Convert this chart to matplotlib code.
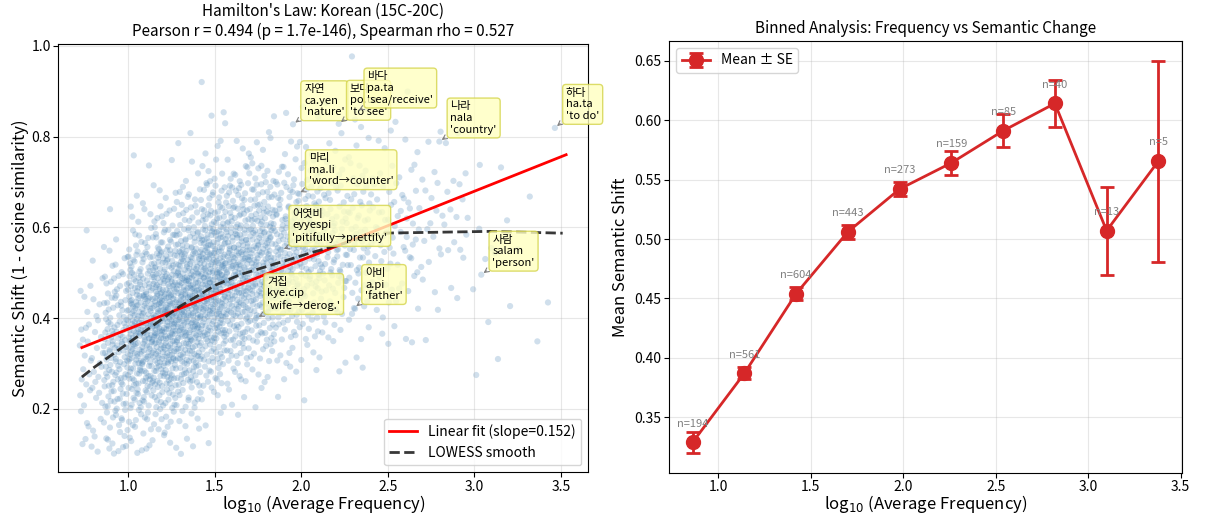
import numpy as np
import matplotlib
matplotlib.use('Agg')
import matplotlib.pyplot as plt

plt.rcParams['font.family'] = ['Noto Sans CJK KR', 'DejaVu Sans']
plt.rcParams['axes.unicode_minus'] = False

# ---------------- data ----------------
# scatter density: columns = x cells, each list = counts per y cell (low -> high)
x_edges = [0.72, 0.86, 1.00, 1.14, 1.28, 1.42, 1.56, 1.70, 1.84, 1.98, 2.12,
           2.26, 2.40, 2.54, 2.68, 2.82, 2.96, 3.10, 3.24, 3.38, 3.52]
y_edges = [0.10, 0.15, 0.20, 0.25, 0.30, 0.35, 0.40, 0.45, 0.50, 0.55,
           0.60, 0.65, 0.70, 0.75, 0.80, 0.85, 0.90, 0.95, 1.00]
cell_counts = [
    [5, 5, 7, 8, 8, 7, 5, 3, 1, 1, 0, 0, 0, 0, 0, 0, 0, 0],
    [10, 11, 16, 22, 25, 22, 17, 12, 6, 2, 1, 0, 0, 0, 0, 0, 0, 0],
    [7, 10, 19, 29, 38, 42, 38, 29, 19, 10, 5, 2, 1, 1, 0, 0, 0, 0],
    [5, 9, 18, 30, 43, 51, 51, 42, 30, 18, 9, 4, 1, 0, 0, 0, 0, 0],
    [3, 6, 12, 23, 35, 46, 51, 48, 37, 24, 13, 7, 3, 1, 1, 0, 0, 0],
    [1, 2, 5, 12, 22, 34, 45, 49, 45, 34, 22, 12, 6, 3, 1, 1, 1, 0],
    [0, 1, 3, 7, 14, 23, 33, 39, 39, 33, 23, 14, 7, 3, 1, 0, 0, 0],
    [0, 0, 2, 4, 9, 16, 24, 31, 34, 31, 24, 15, 8, 4, 1, 0, 0, 0],
    [0, 0, 1, 3, 6, 11, 17, 22, 25, 23, 18, 12, 7, 3, 1, 1, 0, 0],
    [0, 0, 1, 1, 4, 7, 12, 17, 20, 20, 17, 12, 7, 3, 1, 1, 0, 0],
    [0, 0, 0, 1, 2, 5, 8, 12, 14, 15, 12, 9, 5, 3, 1, 1, 0, 0],
    [0, 0, 0, 1, 1, 3, 5, 8, 11, 12, 11, 8, 5, 3, 2, 1, 0, 1],
    [0, 0, 0, 0, 1, 2, 4, 5, 7, 8, 7, 6, 4, 2, 1, 1, 0, 0],
    [0, 0, 0, 0, 1, 1, 2, 4, 5, 6, 6, 5, 3, 2, 1, 1, 0, 0],
    [0, 0, 0, 0, 0, 1, 1, 2, 3, 4, 4, 3, 2, 1, 1, 1, 0, 0],
    [0, 0, 0, 0, 0, 0, 1, 1, 2, 3, 3, 3, 2, 1, 1, 0, 0, 0],
    [0, 0, 0, 1, 0, 1, 0, 1, 1, 2, 1, 0, 1, 0, 0, 0, 0, 0],
    [0, 0, 0, 0, 1, 0, 1, 0, 1, 0, 1, 0, 1, 0, 0, 0, 0, 0],
    [0, 0, 0, 0, 1, 0, 0, 0, 0, 1, 0, 1, 0, 0, 0, 0, 0, 0],
    [0, 0, 0, 0, 0, 0, 1, 0, 0, 0, 0, 0, 0, 0, 0, 0, 0, 0],
]

# linear fit
fit_slope = 0.152
fit_intercept = 0.2234
fit_x_range = [0.734, 3.53]

# LOWESS curve (read points)
lowess_x = [0.734, 0.80, 1.30, 1.508, 1.647, 2.05, 2.455, 3.09, 3.51]
lowess_y = [0.270, 0.290, 0.4256, 0.473, 0.4955, 0.543, 0.587, 0.591, 0.587]

# annotated words
words = ['자연', '보다', '바다', '나라', '하다', '마리', '어엿비', '사람', '아비', '겨집']
romans = ['ca.yen', 'po.ta', 'pa.ta', 'nala', 'ha.ta', 'ma.li', 'eyyespi', 'salam', 'a.pi', 'kye.cip']
glosses = ["'nature'", "'to see'", "'sea/receive'", "'country'", "'to do'",
           "'word→counter'", "'pitifully→prettily'", "'person'", "'father'", "'wife→derog.'"]
word_x = [1.953, 2.217, 2.318, 2.798, 3.465, 1.98, 1.885, 3.04, 2.305, 1.74]
word_y = [0.827, 0.828, 0.855, 0.789, 0.819, 0.675, 0.550, 0.4955, 0.422, 0.400]

# binned analysis
bin_centers = [0.86, 1.14, 1.42, 1.70, 1.98, 2.26, 2.54, 2.82, 3.10, 3.38]
bin_means = [0.329, 0.387, 0.454, 0.506, 0.542, 0.564, 0.591, 0.614, 0.507, 0.5655]
bin_se = [0.009, 0.005, 0.0053, 0.0062, 0.006, 0.0099, 0.0139, 0.0195, 0.037, 0.0845]
bin_n = [194, 561, 604, 443, 273, 159, 85, 40, 13, 5]


# ---------------- build scatter positions inside each cell ----------------
def halton(i, base):
    f, r = 1.0, 0.0
    while i > 0:
        f /= base
        r += f * (i % base)
        i //= base
    return r


sx, sy = [], []
k = 0
for i in range(len(x_edges) - 1):
    for j in range(len(y_edges) - 1):
        for _ in range(cell_counts[i][j]):
            k += 1
            u = halton(k, 2)
            v = halton(k, 3)
            sx.append(x_edges[i] + u * (x_edges[i + 1] - x_edges[i]))
            sy.append(y_edges[j] + v * (y_edges[j + 1] - y_edges[j]))

# ---------------- figure ----------------
fig = plt.figure(figsize=(12.1, 5.15), dpi=100)
ax1 = fig.add_axes([0.0482, 0.0829, 0.4380, 0.8317])
ax2 = fig.add_axes([0.5531, 0.0821, 0.4235, 0.8383])

for ax in (ax1, ax2):
    ax.tick_params(axis='both', labelsize=10, pad=2)

# left panel
ax1.scatter(sx, sy, s=20, c='steelblue', alpha=0.25, edgecolors='none', zorder=1)
ax1.scatter(word_x, word_y, s=20, c='steelblue', alpha=0.25, edgecolors='none', zorder=1)
fx = np.array(fit_x_range)
ax1.plot(fx, fit_intercept + fit_slope * fx, color='red', lw=2,
         label=f'Linear fit (slope={fit_slope:.3f})', zorder=3)
ax1.plot(lowess_x, lowess_y, color='#222222', ls='--', lw=2, alpha=0.9,
         label='LOWESS smooth', zorder=3)

for w, r, gl, x, y in zip(words, romans, glosses, word_x, word_y):
    ax1.annotate(f'{w}\n{r}\n{gl}', xy=(x, y), xytext=(8, 5), textcoords='offset points',
                 fontsize=8, ha='left', va='bottom', zorder=5,
                 bbox=dict(boxstyle='round,pad=0.3', facecolor='#ffffc0',
                           edgecolor='#d4d44a', alpha=0.8),
                 arrowprops=dict(arrowstyle='->', color='gray', lw=0.8))

ax1.set_xlim(0.598, 3.658)
ax1.set_ylim(0.06, 1.004)
ax1.set_xticks([1.0, 1.5, 2.0, 2.5, 3.0, 3.5])
ax1.set_yticks([0.2, 0.4, 0.6, 0.8, 1.0])
ax1.grid(True, alpha=0.3)
ax1.set_xlabel('log$_{10}$ (Average Frequency)', fontsize=12, labelpad=-1)
ax1.set_ylabel('Semantic Shift (1 - cosine similarity)', fontsize=12, labelpad=2)
ax1.set_title("Hamilton's Law: Korean (15C-20C)\n"
              "Pearson r = 0.494 (p = 1.7e-146), Spearman rho = 0.527", fontsize=11)
ax1.legend(loc='lower right', fontsize=10)

# right panel
ax2.errorbar(bin_centers, bin_means, yerr=bin_se, fmt='o-', color='#d62728',
             markersize=10, lw=2, elinewidth=2, capsize=5, capthick=2, label='Mean ± SE')
for x, y, n in zip(bin_centers, bin_means, bin_n):
    ax2.annotate(f'n={n}', xy=(x, y), xytext=(0, 10), textcoords='offset points',
                 ha='center', va='bottom', fontsize=8, color='gray')
ax2.set_xticks([1.0, 1.5, 2.0, 2.5, 3.0, 3.5])
ax2.set_yticks([0.35, 0.40, 0.45, 0.50, 0.55, 0.60, 0.65])
ax2.grid(True, alpha=0.3)
ax2.set_xlabel('log$_{10}$ (Average Frequency)', fontsize=12, labelpad=-1)
ax2.set_ylabel('Mean Semantic Shift', fontsize=12, labelpad=4)
ax2.set_title('Binned Analysis: Frequency vs Semantic Change', fontsize=11)
ax2.legend(loc='upper left', fontsize=10)

fig.savefig('out.png', dpi=100)
